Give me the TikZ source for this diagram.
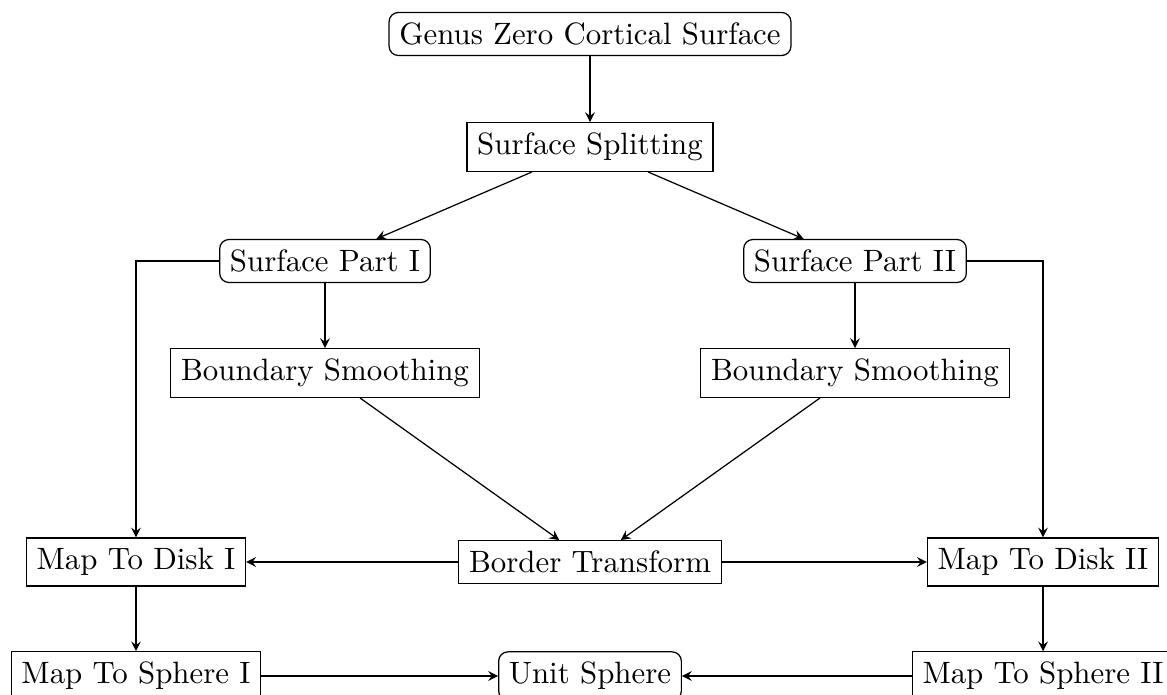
\documentclass[tikz,border=0pt]{standalone}
\usetikzlibrary{arrows}
\begin{document}
\begin{tikzpicture}[x=0.324pt,y=-0.324pt,
  box/.style={draw,rectangle,inner sep=3.33pt},
  rbox/.style={draw,rectangle,rounded corners=3pt,inner sep=3.33pt},
  conn/.style={-stealth}]
\useasboundingbox (0,0) rectangle (1167,695);
\node[rbox] (genus) at (590,34) {Genus Zero Cortical Surface};
\node[box] (split) at (590,147) {Surface Splitting};
\node[rbox] (part1) at (325,261) {Surface Part I};
\node[rbox] (part2) at (855,261) {Surface Part II};
\node[box] (bs1) at (325,373) {Boundary Smoothing};
\node[box] (bs2) at (855,373) {Boundary Smoothing};
\node[box] (disk1) at (136,562) {Map To Disk I};
\node[box] (border) at (590,562) {Border Transform};
\node[box] (disk2) at (1043,562) {Map To Disk II};
\node[box] (sph1) at (136,676) {Map To Sphere I};
\node[rbox] (unit) at (590,676) {Unit Sphere};
\node[box] (sph2) at (1043,676) {Map To Sphere II};
\draw[conn] (genus) -- (split);
\draw[conn] (split) -- (part1);
\draw[conn] (split) -- (part2);
\draw[conn] (part1) -- (bs1);
\draw[conn] (part2) -- (bs2);
\draw[conn] (part1.west) -| (disk1.north);
\draw[conn] (part2.east) -| (disk2.north);
\draw[conn] (bs1) -- (border);
\draw[conn] (bs2) -- (border);
\draw[conn] (border) -- (disk1);
\draw[conn] (border) -- (disk2);
\draw[conn] (disk1) -- (sph1);
\draw[conn] (disk2) -- (sph2);
\draw[conn] (sph1) -- (unit);
\draw[conn] (sph2) -- (unit);
\end{tikzpicture}
\end{document}
